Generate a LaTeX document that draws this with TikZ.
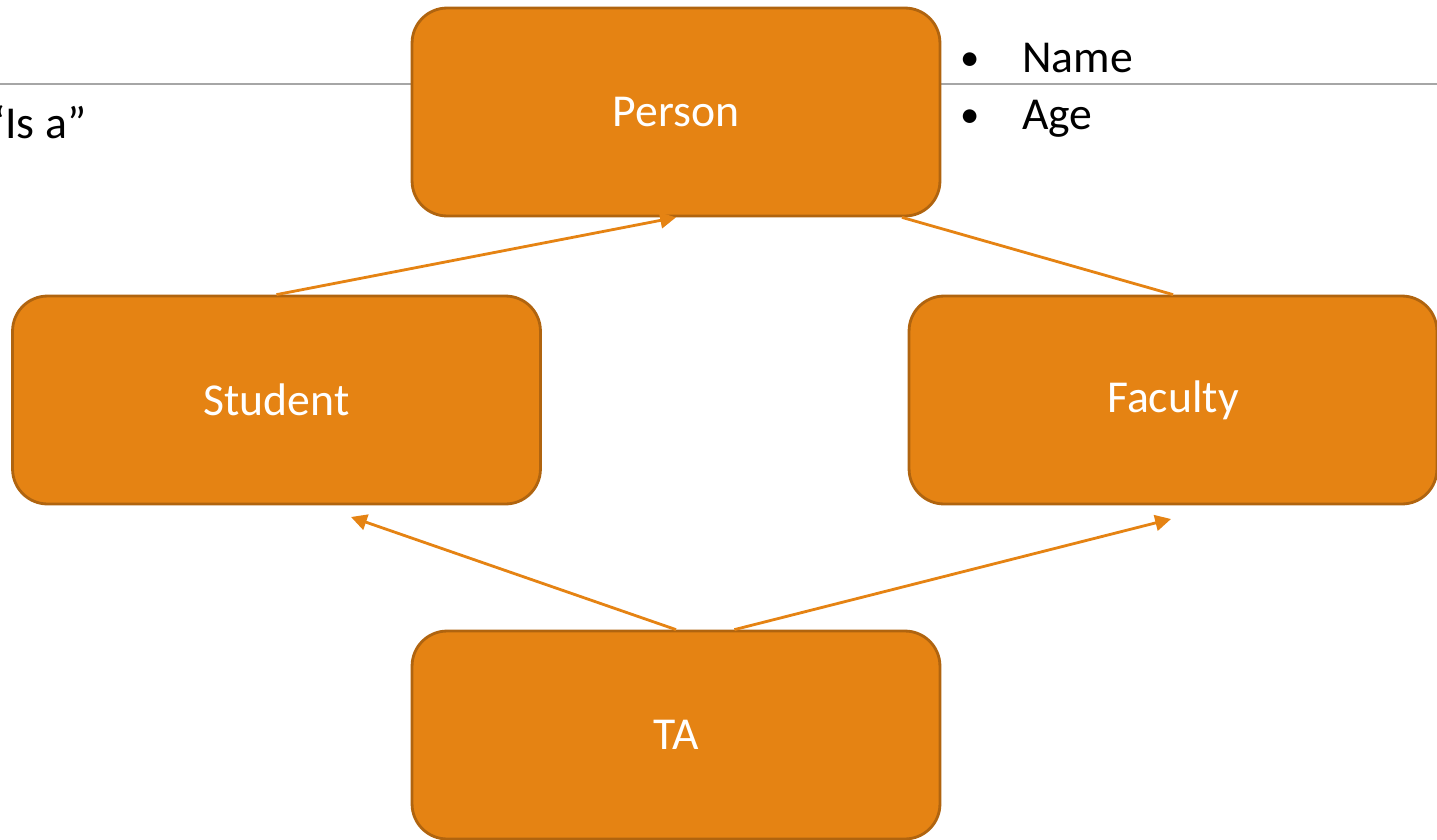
\documentclass[tikz,border=0pt]{standalone}
\usepackage{fontspec}
\setmainfont{Carlito}
\usetikzlibrary{arrows.meta}

\definecolor{boxfill}{HTML}{E58313}
\definecolor{boxedge}{HTML}{B0640F}
\definecolor{rulegrey}{HTML}{A6A6A6}

\begin{document}
\begin{tikzpicture}[
  x=0.02cm, y=-0.02cm,
  cls/.style={draw=boxedge, line width=1.6pt, fill=boxfill, rounded corners=0.7cm,
              minimum width=10.56cm, minimum height=4.16cm,
              text=white, font=\fontsize{26}{30}\selectfont},
  isa/.style={draw=boxfill, line width=1.6pt},
  isaarr/.style={isa, -{Triangle[length=9pt, width=9pt]}},
  txt/.style={font=\fontsize{26}{30}\selectfont, inner sep=0pt}
]
\useasboundingbox (0,0) rectangle (1437,839);
\clip (0,0) rectangle (1437,839);

%% ── Slide rule and caption ────────────────────────────────────────────────────
\draw[rulegrey, line width=0.9pt] (0,84) -- (1437,84);
\node[txt, anchor=base west] (caption) at (-14,138) {“Is a”};

%% ── Classes ───────────────────────────────────────────────────────────────────
\node[cls] (person)  at (676,112)   {Person};
\node[cls] (student) at (276.5,400) {Student};
\node[cls] (faculty) at (1173,400)  {Faculty};
\node[cls] (ta)      at (676,735)   {TA};

% attributes of Person
\node[txt, anchor=base, font=\fontsize{22}{26}\selectfont] (bulA) at (970,70)  {•};
\node[txt, anchor=base west] (attrA) at (1022,72)  {Name};
\node[txt, anchor=base, font=\fontsize{22}{26}\selectfont] (bulB) at (970,127) {•};
\node[txt, anchor=base west] (attrB) at (1022,129) {Age};

%% ── Inheritance ───────────────────────────────────────────────────────────────
\coordinate (stuIn) at (351,517);
\coordinate (facIn) at (1171,519);

% Student / Faculty is a Person
\draw[isaarr] (student.north) -- (person.south);
\draw[isa]    (faculty.north) -- (person.-25.6);

% TA is a Student and a Faculty
\draw[isaarr] (ta.north) -- (stuIn);
\draw[isaarr] (ta.61.5)  -- (facIn);

\end{tikzpicture}
\end{document}
